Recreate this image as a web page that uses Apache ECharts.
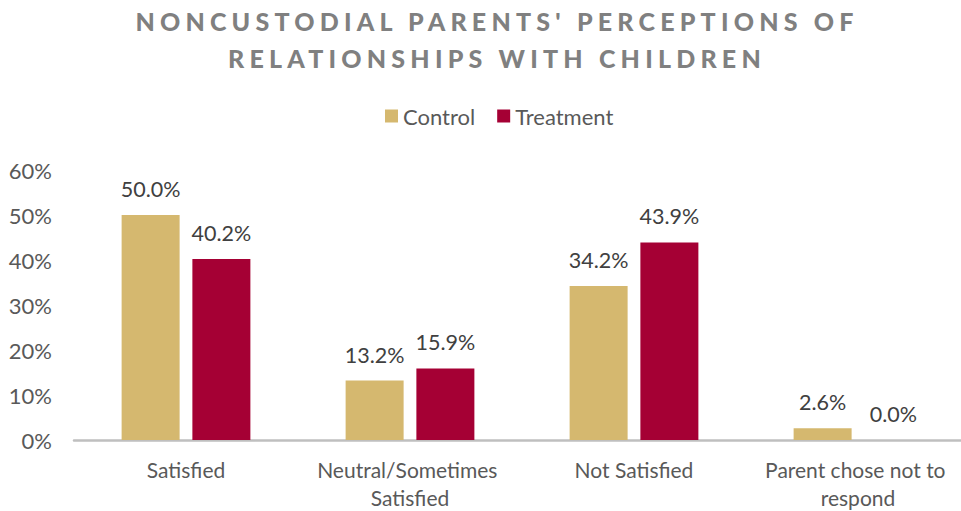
<!DOCTYPE html>
<html>
<head>
<meta charset="utf-8">
<script src="https://cdn.jsdelivr.net/npm/echarts@6/dist/echarts.min.js"></script>
<style>
html,body{margin:0;padding:0;background:#fff;}
#chart{width:961px;height:511px;}
</style>
</head>
<body>
<div id="chart"></div>
<script>
var titleLines = ["NONCUSTODIAL PARENTS' PERCEPTIONS OF", "RELATIONSHIPS WITH CHILDREN"];
var categories = ["Satisfied", "Neutral/Sometimes Satisfied", "Not Satisfied", "Parent chose not to respond"];
var seriesNames = ["Control", "Treatment"];
var controlValues = [50.0, 13.2, 34.2, 2.6];
var treatmentValues = [40.2, 15.9, 43.9, 0.0];
var yTicks = [0, 10, 20, 30, 40, 50, 60];

var FONT = 'Lato, "Open Sans", sans-serif';
var chart = echarts.init(document.getElementById('chart'), null, { renderer: 'svg' });
chart.setOption({
  backgroundColor: '#ffffff',
  animation: false,
  title: {
    text: titleLines.join('\n'),
    left: 492,
    textAlign: 'center',
    top: -3,
    textStyle: {
      fontFamily: FONT,
      fontWeight: 900,
      fontSize: 25,
      color: '#808080',
      lineHeight: 37
    }
  },
  legend: {
    data: seriesNames,
    left: 380,
    top: 100,
    itemWidth: 13,
    itemHeight: 13,
    itemGap: 22,
    icon: 'rect',
    textStyle: { fontFamily: FONT, fontSize: 22, color: '#595959' }
  },
  grid: { left: 74, width: 896, top: 170, bottom: 71, outerBoundsMode: 'none', containLabel: false },
  xAxis: {
    type: 'category',
    data: categories,
    axisLine: { show: true, lineStyle: { color: '#BFBFBF', width: 2.5 } },
    axisTick: { show: false },
    axisLabel: {
      fontFamily: FONT, fontSize: 21, color: '#595959', margin: 15,
      interval: 0, width: 210, overflow: 'break', lineHeight: 28
    }
  },
  yAxis: {
    type: 'value',
    min: 0, max: 60, interval: 10,
    splitLine: { show: false },
    axisLine: { show: false },
    axisTick: { show: false },
    axisLabel: {
      fontFamily: FONT, fontSize: 22, color: '#595959', margin: 22,
      formatter: function (v) { return yTicks.indexOf(v) >= 0 ? v + '%' : ''; }
    }
  },
  series: [
    {
      name: seriesNames[0], type: 'bar', data: controlValues,
      barWidth: 58, barGap: '22%',
      itemStyle: { color: '#D5B86F' },
      label: { show: true, position: 'top', distance: 15, fontFamily: FONT, fontSize: 21.5, color: '#404040',
        formatter: function (p) { return p.value.toFixed(1) + '%'; } }
    },
    {
      name: seriesNames[1], type: 'bar', data: treatmentValues,
      barWidth: 58,
      itemStyle: { color: '#A50034' },
      label: { show: true, position: 'top', distance: 15, fontFamily: FONT, fontSize: 21.5, color: '#404040',
        formatter: function (p) { return p.value.toFixed(1) + '%'; } }
    }
  ]
});

function spaceTitle() {
  var texts = document.querySelectorAll('#chart svg text');
  for (var i = 0; i < texts.length; i++) {
    if (titleLines.indexOf(texts[i].textContent) >= 0) {
      texts[i].style.letterSpacing = '5.2px';
    }
  }
}
spaceTitle();
chart.on('finished', spaceTitle);
</script>
</body>
</html>
